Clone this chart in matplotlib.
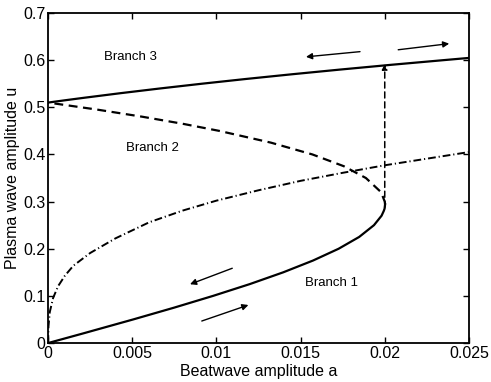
import matplotlib
matplotlib.use('Agg')
import matplotlib.pyplot as plt

plt.rcParams['font.family'] = ['Liberation Sans', 'DejaVu Sans']

# branch 1 (stable, lower)
b1_a = [0, 0.00204, 0.00505, 0.00748, 0.0098, 0.01198, 0.01397, 0.01574, 0.01726,
        0.01848, 0.01936, 0.01981, 0.01994, 0.01999, 0.02002]
b1_u = [0, 0.02, 0.05, 0.075, 0.1, 0.125, 0.15, 0.175, 0.2,
        0.225, 0.25, 0.27, 0.28, 0.285, 0.294]

# branch 2 (unstable, dashed)
b2_a = [0.02002, 0.0200, 0.01978, 0.01888, 0.01757, 0.0157, 0.01324, 0.01016,
        0.0080, 0.00559, 0.00293, 0.0]
b2_u = [0.294, 0.3, 0.32, 0.35, 0.375, 0.4, 0.425, 0.45,
        0.465, 0.48, 0.495, 0.51]

# branch 3 (stable, upper)
b3_a = [0, 0.00103, 0.0021, 0.00432, 0.00667, 0.00914, 0.01174, 0.01448,
        0.01735, 0.02035, 0.0235, 0.0251]
b3_u = [0.51, 0.515, 0.52, 0.53, 0.54, 0.55, 0.56, 0.57,
        0.58, 0.59, 0.6, 0.605]

# dash-dot curve
dd_a = [0, 0.00002, 0.0001, 0.0003, 0.0006, 0.001, 0.0015, 0.0025, 0.004, 0.006,
        0.008, 0.01, 0.0125, 0.015, 0.0175, 0.02, 0.0225, 0.025]
dd_u = [0, 0.035, 0.066, 0.096, 0.121, 0.143, 0.164, 0.191, 0.222, 0.256,
        0.281, 0.302, 0.324, 0.344, 0.361, 0.377, 0.391, 0.405]

fig = plt.figure(figsize=(4.91, 3.82), dpi=100)
ax = fig.add_axes([0.098, 0.102, 0.857, 0.864])

ax.plot(b1_a, b1_u, 'k-', lw=1.6)
ax.plot(b2_a, b2_u, 'k--', lw=1.6, dashes=(4, 2.5))
ax.plot(b3_a, b3_u, 'k-', lw=1.6)
ax.plot(dd_a, dd_u, 'k-.', lw=1.4, dashes=(4, 1.5, 0.6, 1.5))

# jump arrow
ax.annotate('', xy=(0.02, 0.592), xytext=(0.02, 0.288),
            arrowprops=dict(arrowstyle='-|>', lw=1.1, ls=(0, (4, 2.5)), color='k',
                            mutation_scale=8, shrinkA=0, shrinkB=0))

arrows = [((0.01853, 0.618), (0.01532, 0.607)),
          ((0.0208, 0.622), (0.02383, 0.635)),
          ((0.01094, 0.1586), (0.00843, 0.1247)),
          ((0.00913, 0.0467), (0.0119, 0.0807))]
for tail, head in arrows:
    ax.annotate('', xy=head, xytext=tail,
                arrowprops=dict(arrowstyle='-|>', lw=1.0, color='k',
                                mutation_scale=9, shrinkA=0, shrinkB=0))

ax.text(0.00487, 0.607, 'Branch 3', ha='center', va='center', fontsize=9.5)
ax.text(0.00618, 0.414, 'Branch 2', ha='center', va='center', fontsize=9.5)
ax.text(0.01685, 0.127, 'Branch 1', ha='center', va='center', fontsize=9.5)

ax.set_xlim(0, 0.025)
ax.set_ylim(0, 0.7)
ax.set_xticks([0, 0.005, 0.01, 0.015, 0.02, 0.025])
ax.set_xticklabels(['0', '0.005', '0.01', '0.015', '0.02', '0.025'])
ax.set_yticks([0, 0.1, 0.2, 0.3, 0.4, 0.5, 0.6, 0.7])
ax.set_yticklabels(['0', '0.1', '0.2', '0.3', '0.4', '0.5', '0.6', '0.7'])
ax.tick_params(direction='in', top=True, right=True, labelsize=11.5, length=4, width=1, pad=2)
for s in ax.spines.values():
    s.set_linewidth(1.3)
ax.set_xlabel('Beatwave amplitude a', fontsize=11.5, labelpad=2)
ax.set_ylabel('Plasma wave amplitude u', fontsize=11.5, labelpad=2)

fig.savefig('out.png', dpi=100)
